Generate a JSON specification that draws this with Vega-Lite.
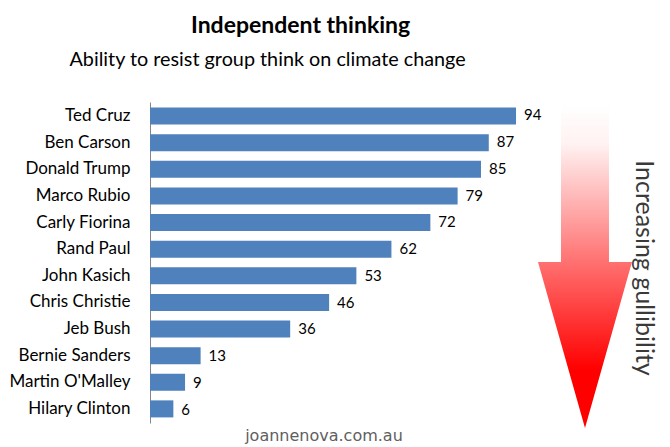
{
  "$schema": "https://vega.github.io/schema/vega-lite/v6.json",
  "width": 520,
  "height": 321,
  "autosize": {"type": "none"},
  "padding": {"left": 150, "top": 102, "right": 0, "bottom": 24},
  "background": "white",
  "config": {"view": {"stroke": null}, "font": "Lato"},
  "title": {
    "text": "Independent thinking",
    "anchor": "start",
    "frame": "group",
    "dx": 41,
    "offset": 11,
    "font": "Lato",
    "fontSize": 23,
    "fontWeight": "bold",
    "color": "#000000"
  },
  "datasets": {
    "scores": [
      {"name": "Ted Cruz", "value": 94},
      {"name": "Ben Carson", "value": 87},
      {"name": "Donald Trump", "value": 85},
      {"name": "Marco Rubio", "value": 79},
      {"name": "Carly Fiorina", "value": 72},
      {"name": "Rand Paul", "value": 62},
      {"name": "John Kasich", "value": 53},
      {"name": "Chris Christie", "value": 46},
      {"name": "Jeb Bush", "value": 36},
      {"name": "Bernie Sanders", "value": 13},
      {"name": "Martin O'Malley", "value": 9},
      {"name": "Hilary Clinton", "value": 6}
    ],
    "arrow": [
      {"ay": 99.07, "ax": 105.55, "ax2": 117.87},
      {"ay": 50.16, "ax": 105.55, "ax2": 117.87},
      {"ay": 50.15, "ax": 99.64, "ax2": 123.78},
      {"ay": -1.56, "ax": 111.71, "ax2": 111.71}
    ],
    "notes": [
      {"label": "Increasing gullibility", "ax": 126.86, "ay": 48.3}
    ],
    "footer": [
      {"label": "joannenova.com.au", "ax": 44.68, "ay": -4.05}
    ]
  },
  "layer": [
    {
      "data": {"name": "scores"},
      "mark": {"type": "bar", "color": "#4F81BD"},
      "encoding": {
        "y": {
          "field": "name",
          "type": "nominal",
          "sort": null,
          "scale": {"paddingInner": 0.36, "paddingOuter": 0.21},
          "axis": {
            "title": null,
            "ticks": false,
            "domain": true,
            "domainColor": "#868686",
            "domainWidth": 1,
            "labelFont": "Lato",
            "labelFontSize": 17,
            "labelColor": "#000000",
            "labelPadding": 20,
            "labelLimit": 200
          }
        },
        "x": {
          "field": "value",
          "type": "quantitative",
          "scale": {"domain": [0, 133.54], "nice": false, "zero": true},
          "axis": {
            "orient": "top",
            "labels": false,
            "ticks": false,
            "domain": false,
            "grid": false,
            "title": "Ability to resist group think on climate change",
            "titleFont": "Lato",
            "titleFontSize": 19.8,
            "titleFontWeight": "normal",
            "titleColor": "#000000",
            "titleAnchor": "start",
            "titleAlign": "left",
            "titleBaseline": "alphabetic",
            "titleX": -81,
            "titleY": -37
          }
        }
      }
    },
    {
      "data": {"name": "scores"},
      "mark": {"type": "text", "align": "left", "baseline": "middle", "dx": 8, "fontSize": 15, "font": "Lato", "color": "#000000"},
      "encoding": {
        "y": {"field": "name", "type": "nominal", "sort": null, "axis": null},
        "x": {"field": "value", "type": "quantitative"},
        "text": {"field": "value", "type": "quantitative"}
      }
    },
    {
      "data": {"name": "arrow"},
      "mark": {
        "type": "area",
        "orient": "horizontal",
        "opacity": 1,
        "color": {
          "gradient": "linear",
          "x1": 0, "y1": 0, "x2": 0, "y2": 1,
          "stops": [
            {"offset": 0, "color": "#ffffff"},
            {"offset": 0.12, "color": "#fff2f2"},
            {"offset": 0.5, "color": "#ff6c6c"},
            {"offset": 0.82, "color": "#ff0000"},
            {"offset": 1, "color": "#ff0000"}
          ]
        }
      },
      "encoding": {
        "y": {"field": "ay", "type": "quantitative", "scale": {"domain": [0, 100], "nice": false, "zero": false}, "axis": null},
        "x": {"field": "ax", "type": "quantitative"},
        "x2": {"field": "ax2"}
      }
    },
    {
      "data": {"name": "notes"},
      "mark": {"type": "text", "angle": 90, "align": "center", "baseline": "middle", "fontSize": 25, "font": "Lato", "color": "#3a3a3a"},
      "encoding": {
        "y": {"field": "ay", "type": "quantitative", "scale": {"domain": [0, 100], "nice": false, "zero": false}, "axis": null},
        "x": {"field": "ax", "type": "quantitative"},
        "text": {"field": "label", "type": "nominal"}
      }
    },
    {
      "data": {"name": "footer"},
      "mark": {"type": "text", "align": "center", "baseline": "middle", "fontSize": 16, "font": "DejaVu Sans", "color": "#606060"},
      "encoding": {
        "y": {"field": "ay", "type": "quantitative", "scale": {"domain": [0, 100], "nice": false, "zero": false}, "axis": null},
        "x": {"field": "ax", "type": "quantitative"},
        "text": {"field": "label", "type": "nominal"}
      }
    }
  ],
  "resolve": {"scale": {"y": "independent"}, "axis": {"y": "independent"}}
}
